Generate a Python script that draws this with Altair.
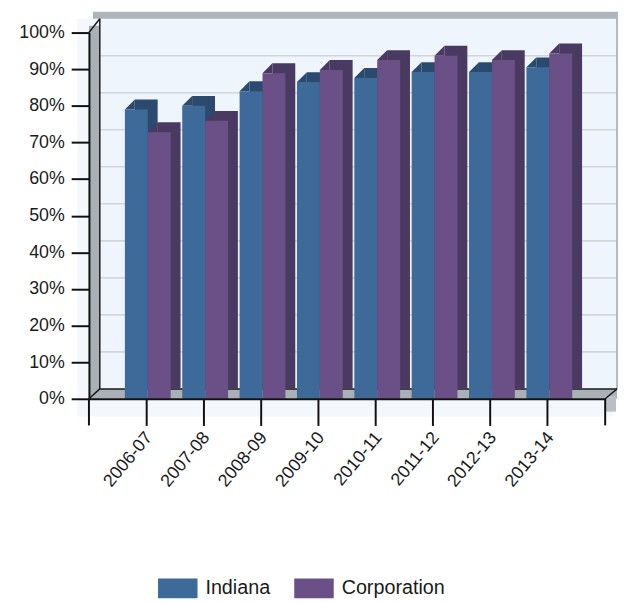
import altair as alt
import pandas as pd

# ---- data ----
years = ["2006-07", "2007-08", "2008-09", "2009-10", "2010-11", "2011-12", "2012-13", "2013-14"]
indiana = [79.0, 80.0, 84.0, 86.5, 87.6, 89.2, 89.2, 90.5]
corporation = [72.8, 75.9, 88.9, 89.8, 92.5, 93.7, 92.5, 94.3]
series = ["Indiana", "Corporation"]
y_ticks = [0, 10, 20, 30, 40, 50, 60, 70, 80, 90, 100]
grid_vals = [10, 20, 30, 40, 50, 60, 70, 80, 90]

front_colors = ["#3E6A9A", "#6A5087"]
side_colors = ["#2B4A6E", "#4A3961"]

FONT = "Liberation Sans, Arial, sans-serif"
W, H = 523, 371
BW = 23.2     # single bar width (px)
SHIFT = 1.5   # group shift right of the tick
DX, DY = 10, -10  # bar depth
WX = 11       # wall depth (x)

df = pd.DataFrame({
    "year": years * 2,
    "series": [series[0]] * len(years) + [series[1]] * len(years),
    "value": indiana + corporation,
})
one = pd.DataFrame({"k": [0]})

xscale = alt.Scale(domain=years, paddingInner=0.2, paddingOuter=0.6)
yscale = alt.Scale(domain=[0, 100], nice=False)

X = alt.X("year:N", scale=xscale, title=None,
          axis=alt.Axis(labelAngle=310, labelAlign="right", labelBaseline="middle",
                        labelPadding=9, labelOffset=3, tickSize=27, tickWidth=2,
                        tickColor="#111", domainColor="#111", domainWidth=2,
                        labelFont=FONT, labelFontSize=18, labelColor="#1a1a1a",
                        grid=False, zindex=1, labelOverlap=False))
Y = alt.Y("value:Q", scale=yscale, title=None,
          axis=alt.Axis(values=y_ticks, labelExpr="datum.value + '%'", orient="left",
                        tickSize=18, tickWidth=2, tickColor="#111", domainColor="#111",
                        domainWidth=2, labelPadding=7, labelFont=FONT, labelFontSize=18,
                        labelColor="#1a1a1a", grid=False, zindex=1))


def rect(x, x2, y, y2, color):
    return alt.Chart(one).mark_rect(color=color).encode(
        x=alt.value(x), x2=alt.value(x2), y=alt.value(y), y2=alt.value(y2))


def line(x, x2, y, y2, color="#1a1a1a", w=1.5):
    return alt.Chart(one).mark_rule(color=color, strokeWidth=w).encode(
        x=alt.value(x), x2=alt.value(x2), y=alt.value(y), y2=alt.value(y2))


bg = rect(-12, 531, -14, 389, "#F4F8FC")
wall = rect(WX, 535, -14, 361, "#EEF5FD")

grid = alt.Chart(pd.DataFrame({"g": grid_vals})).mark_rule(
    color="#D2D6DA", strokeWidth=1.6).encode(
    y=alt.Y("g:Q", scale=alt.Scale(domain=[0, 100], range=[361, -14]), axis=None),
    x=alt.value(WX), x2=alt.value(535))

deco = [
    rect(4, 535, -21, -14, "#ADB4BA"),          # top edge of the wall
    line(535, 535, -21, 361, "#B3B9BF", 2),     # right edge of the wall
    rect(0, WX, -7, 371, "#A9B0B6"),            # left side wall
    rect(0, 535, 361, 371, "#A9B0B6"),          # floor
    rect(523, 534, 368, 384, "#B9BFC4"),        # floor right side
    line(WX, WX, -14, 361),                     # back-left edge
    line(WX, 535, 361, 361),                    # back floor edge
    line(0, WX, 0, -14),                        # top-left diagonal
    line(0, WX, 371, 361),                      # bottom-left diagonal
    line(523, 535, 371, 361),                   # bottom-right diagonal
    line(0, 0, 371, 398, "#111", 2),            # end tick left
    line(523, 523, 371, 398, "#111", 2),        # end tick right
]

# triangle that closes the slanted top face of each 3-D bar (unit path, scaled by sqrt(size)/2 = 5)
TRI = "M0,0L2,-2L2,0Z"

bars = []
for i, name in enumerate(series):
    off = (-BW / 2 if i == 0 else BW / 2) + SHIFT
    d = alt.Chart(df).transform_filter(alt.datum.series == name)
    side = d.mark_bar(width=BW, xOffset=off + DX, yOffset=DY, y2Offset=DY,
                      color=side_colors[i]).encode(x=X, y=Y)
    corner = d.mark_point(shape=TRI, size=100, filled=True, opacity=1, strokeWidth=0,
                          xOffset=off - BW / 2, color=side_colors[i]).encode(x=X, y=Y)
    front = d.mark_bar(width=BW, xOffset=off).encode(
        x=X, y=Y,
        color=alt.Color("series:N", scale=alt.Scale(domain=series, range=front_colors),
                        legend=alt.Legend(title=None, orient="none", direction="horizontal",
                                          legendX=70, legendY=543,
                                          symbolType="M-1,-0.5H1V0.5H-1Z", symbolSize=1600,
                                          symbolStrokeWidth=0, labelFont=FONT,
                                          labelFontSize=20, labelColor="#1a1a1a",
                                          labelOffset=8, columnPadding=24)))
    bars += [side, corner, front]

rest = alt.layer(*deco, *bars)

chart = alt.layer(bg, wall, grid, rest).resolve_scale(y="independent").properties(
    width=W, height=H,
    autosize=alt.AutoSizeParams(type="none"),
    padding={"left": 82, "top": 21, "right": 14, "bottom": 203},
    background="white",
).configure_view(stroke=None)

chart.save("out.html", embed_options={"renderer": "svg", "actions": False})
